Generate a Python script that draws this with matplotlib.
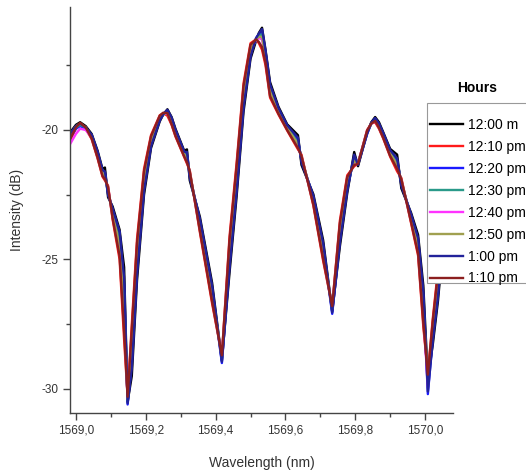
import matplotlib
matplotlib.use("Agg")
import matplotlib.pyplot as plt
from matplotlib.patches import Rectangle

# 字体与清晰度
plt.rcParams['font.family'] = ['Liberation Sans', 'DejaVu Sans']
plt.rcParams['figure.dpi'] = 100

# 波长 (nm)
wavelength = [1568.983, 1569.000, 1569.012, 1569.028, 1569.045, 1569.062, 1569.076, 1569.083, 1569.092, 1569.105,
              1569.125, 1569.138, 1569.148, 1569.160, 1569.175, 1569.195, 1569.215, 1569.240, 1569.250, 1569.262,
              1569.274, 1569.285,
              1569.310, 1569.318, 1569.326, 1569.355, 1569.390, 1569.418, 1569.440, 1569.460, 1569.480, 1569.500,
              1569.516, 1569.524, 1569.533, 1569.543, 1569.556, 1569.580, 1569.605, 1569.636, 1569.646, 1569.680,
              1569.708, 1569.734,
              1569.756, 1569.777, 1569.797, 1569.808, 1569.834, 1569.846, 1569.857, 1569.868, 1569.880, 1569.900,
              1569.920, 1569.932,
              1569.960, 1569.980, 1569.995, 1570.008, 1570.022, 1570.037, 1570.060, 1570.080]

# 各时刻的强度 (dB)
i_1200 = [-20.10, -19.80, -19.70, -19.85, -20.15, -20.80, -21.50, -21.45, -22.60, -22.95,
          -23.85, -25.30, -30.50, -29.50, -25.80, -22.50, -20.70, -19.67, -19.40, -19.20, -19.50, -19.95,
          -20.80, -20.75, -21.95, -23.35, -25.90, -28.90, -25.50, -22.60, -19.30, -17.25,
          -16.55, -16.25, -16.05, -16.90, -18.15, -19.10, -19.78, -20.20, -21.35, -22.48, -24.25, -27.00,
          -24.50, -22.45, -20.85, -21.40, -20.10, -19.70, -19.50, -19.70, -20.08, -20.73, -20.95, -22.25,
          -23.20, -24.05, -26.00, -29.60, -28.30, -26.60, -23.10, -21.20]
i_1210 = [-20.40, -19.95, -19.75, -19.95, -20.35, -21.10, -21.80, -21.95, -22.15, -23.45,
          -25.00, -28.10, -30.30, -27.50, -24.20, -21.50, -20.20, -19.43, -19.35, -19.45, -19.80, -20.25,
          -21.04, -21.30, -21.55, -23.95, -26.70, -28.70, -24.10, -21.30, -18.20, -16.65,
          -16.50, -16.65, -16.90, -17.50, -18.75, -19.40, -20.02, -20.75, -20.95, -22.92, -25.05, -26.80,
          -23.50, -21.75, -21.40, -21.30, -20.00, -19.75, -19.70, -19.95, -20.32, -21.03, -21.60, -21.85,
          -23.60, -24.85, -27.60, -29.40, -27.30, -25.40, -21.90, -20.40]
i_1220 = [-20.30, -19.95, -19.85, -19.95, -20.20, -20.88, -21.58, -21.65, -22.45, -23.08,
          -23.95, -26.00, -30.60, -29.00, -25.40, -22.25, -20.58, -19.61, -19.38, -19.25, -19.58, -20.03,
          -20.86, -20.95, -21.75, -23.50, -26.10, -29.00, -25.15, -22.28, -19.03, -17.10,
          -16.45, -16.30, -16.15, -17.00, -18.30, -19.18, -19.84, -20.40, -21.15, -22.59, -24.45, -27.10,
          -24.25, -22.28, -21.05, -21.30, -20.15, -19.75, -19.55, -19.78, -20.14, -20.81, -21.20, -22.05,
          -23.30, -24.25, -26.40, -30.20, -28.05, -26.30, -22.80, -21.00]
i_1230 = [-20.25, -19.90, -19.80, -19.90, -20.24, -20.94, -21.64, -21.75, -22.35, -23.18,
          -24.23, -26.34, -30.45, -28.60, -25.08, -22.05, -20.48, -19.56, -19.40, -19.30, -19.65, -20.09,
          -20.91, -21.05, -21.70, -23.62, -26.26, -28.80, -24.87, -22.02, -18.81, -16.98,
          -16.50, -16.35, -16.30, -17.10, -18.42, -19.24, -19.89, -20.50, -21.10, -22.68, -24.61, -26.90,
          -24.05, -22.14, -21.15, -21.28, -20.10, -19.75, -19.60, -19.85, -20.19, -20.87, -21.30, -22.00,
          -23.38, -24.41, -26.72, -29.80, -27.85, -26.06, -22.56, -20.84]
i_1240 = [-20.55, -20.15, -19.95, -20.00, -20.29, -21.01, -21.71, -21.85, -22.25, -23.30,
          -24.58, -27.14, -30.35, -28.10, -24.68, -21.80, -20.35, -19.50, -19.38, -19.35, -19.72, -20.16,
          -20.97, -21.15, -21.65, -23.77, -26.46, -28.75, -24.52, -21.69, -18.53, -16.83,
          -16.55, -16.45, -16.50, -17.25, -18.57, -19.31, -19.95, -20.60, -21.05, -22.79, -24.81, -26.85,
          -23.80, -21.96, -21.25, -21.25, -20.05, -19.75, -19.65, -19.90, -20.25, -20.94, -21.40, -21.95,
          -23.48, -24.61, -27.12, -29.90, -27.60, -25.76, -22.26, -20.64]
i_1250 = [-20.20, -19.85, -19.75, -19.90, -20.27, -20.98, -21.68, -21.80, -22.30, -23.25,
          -24.44, -26.82, -30.40, -28.30, -24.84, -21.90, -20.40, -19.53, -19.40, -19.30, -19.68, -20.13,
          -20.94, -21.10, -21.65, -23.71, -26.38, -28.80, -24.66, -21.82, -18.64, -16.89,
          -16.50, -16.40, -16.40, -17.20, -18.51, -19.28, -19.92, -20.55, -21.05, -22.74, -24.73, -26.90,
          -23.90, -22.03, -21.20, -21.27, -20.08, -19.75, -19.60, -19.85, -20.22, -20.91, -21.35, -21.95,
          -23.44, -24.53, -26.96, -29.50, -27.70, -25.88, -22.38, -20.72]
i_1300 = [-20.15, -19.85, -19.75, -19.90, -20.18, -20.85, -21.55, -21.60, -22.50, -23.03,
          -23.95, -25.70, -30.55, -29.20, -25.56, -22.35, -20.63, -19.63, -19.40, -19.22, -19.52, -19.99,
          -20.84, -20.85, -21.85, -23.44, -26.02, -28.95, -25.29, -22.41, -19.14, -17.16,
          -16.45, -16.28, -16.10, -16.95, -18.24, -19.15, -19.82, -20.30, -21.25, -22.55, -24.37, -27.05,
          -24.35, -22.35, -20.95, -21.35, -20.15, -19.72, -19.55, -19.75, -20.12, -20.78, -21.10, -22.15,
          -23.26, -24.17, -26.24, -30.10, -28.15, -26.42, -22.92, -21.08]
i_1310 = [-20.35, -19.90, -19.72, -19.90, -20.33, -21.07, -21.77, -21.90, -22.20, -23.40,
          -24.86, -27.78, -30.30, -27.70, -24.36, -21.60, -20.25, -19.45, -19.33, -19.35, -19.78, -20.22,
          -21.02, -21.25, -21.60, -23.89, -26.62, -28.70, -24.24, -21.43, -18.31, -16.71,
          -16.50, -16.60, -16.80, -17.40, -18.69, -19.37, -20.00, -20.70, -21.00, -22.88, -24.97, -26.80,
          -23.60, -21.82, -21.35, -21.30, -20.02, -19.75, -19.65, -19.92, -20.30, -21.00, -21.50, -21.90,
          -23.56, -24.77, -27.44, -29.45, -27.40, -25.52, -22.02, -20.48]

series = [i_1200, i_1210, i_1220, i_1230, i_1240, i_1250, i_1300, i_1310]
labels = ['12:00 m', '12:10 pm', '12:20 pm', '12:30 pm', '12:40 pm', '12:50 pm', '1:00 pm', '1:10 pm']
colors = ['#000000', '#ff1a1a', '#1a1aff', '#2a9a8a', '#ff33ff', '#a0a050', '#22229a', '#8c1f1f']

# 刻度
xtick_values = [1569.0, 1569.2, 1569.4, 1569.6, 1569.8, 1570.0]
xtick_labels = ['1569,0', '1569,2', '1569,4', '1569,6', '1569,8', '1570,0']
ytick_values = [-30, -25, -20]
ytick_labels = ['-30', '-25', '-20']

fig = plt.figure(figsize=(5.26, 4.73))
ax = fig.add_axes([0.1331, 0.1268, 0.7281, 0.8584])

# 画曲线
for y, lab, c in zip(series, labels, colors):
    ax.plot(wavelength, y, color=c, lw=1.7, label=lab, solid_joinstyle='round')

ax.set_xlim(1568.983, 1570.08)
ax.set_ylim(-30.93, -15.25)

ax.set_xticks(xtick_values)
ax.set_xticklabels(xtick_labels)
ax.set_xticks([1569.1, 1569.3, 1569.5, 1569.7, 1569.9], minor=True)
ax.set_yticks(ytick_values)
ax.set_yticklabels(ytick_labels)
ax.set_yticks([-27.5, -22.5, -17.5], minor=True)

# 坐标轴样式
for s in ['top', 'right']:
    ax.spines[s].set_visible(False)
for s in ['left', 'bottom']:
    ax.spines[s].set_color('#444444')
    ax.spines[s].set_linewidth(1.0)
ax.tick_params(which='major', length=5, width=1.0, color='#444444', labelsize=8.5,
               labelcolor='#333333', pad=3)
ax.tick_params(which='minor', length=3, width=1.0, color='#444444')

ax.set_xlabel('Wavelength (nm)', fontsize=10, color='#333333')
ax.set_ylabel('Intensity (dB)', fontsize=10, color='#333333')
ax.xaxis.set_label_coords(0.5, -0.123)
ax.xaxis.label.set_va('center')
ax.yaxis.set_label_coords(-0.138, 0.5)
ax.yaxis.label.set_va('center')

# 图例框（白底，盖住曲线）
fig.patches.append(Rectangle((0.8118, 0.4017), 0.196, 0.3805, transform=fig.transFigure,
                             facecolor='white', edgecolor='#999999', linewidth=0.8, zorder=2))

handles, labs = ax.get_legend_handles_labels()
leg = fig.legend(handles, labs, loc='upper left', bbox_to_anchor=(0.8175, 0.7505),
                 fontsize=10, frameon=False, borderpad=0, borderaxespad=0,
                 handlelength=2.4, handletextpad=0.3, labelspacing=0.57)
leg.set_zorder(3)
fig.text(0.907, 0.814, 'Hours', fontsize=10, fontweight='bold', ha='center', va='center')

fig.savefig('out.png', dpi=100)
